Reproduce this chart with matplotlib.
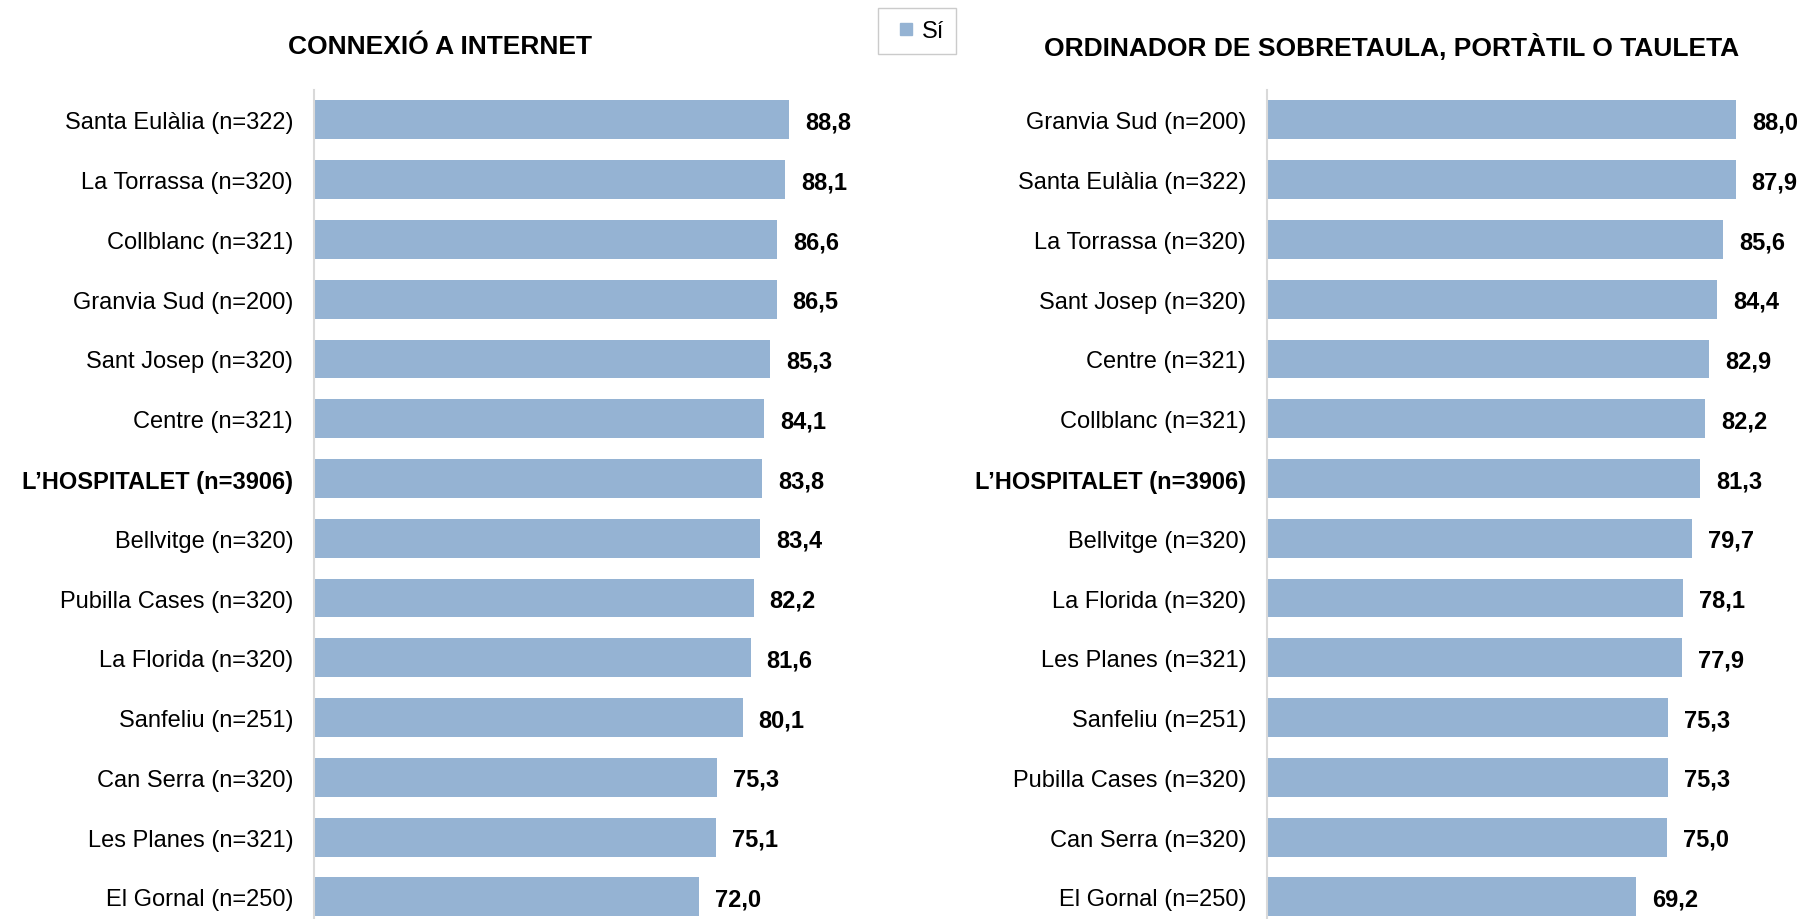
import matplotlib.pyplot as plt
from matplotlib.lines import Line2D

plt.rcParams['font.family'] = ['Liberation Sans', 'DejaVu Sans']

left_labels = ["Santa Eulàlia (n=322)", "La Torrassa (n=320)", "Collblanc (n=321)",
               "Granvia Sud (n=200)", "Sant Josep (n=320)", "Centre (n=321)",
               "L’HOSPITALET (n=3906)", "Bellvitge (n=320)", "Pubilla Cases (n=320)",
               "La Florida (n=320)", "Sanfeliu (n=251)", "Can Serra (n=320)",
               "Les Planes (n=321)", "El Gornal (n=250)"]
left_values = [88.8, 88.1, 86.6, 86.5, 85.3, 84.1, 83.8, 83.4, 82.2, 81.6, 80.1, 75.3, 75.1, 72.0]

right_labels = ["Granvia Sud (n=200)", "Santa Eulàlia (n=322)", "La Torrassa (n=320)",
                "Sant Josep (n=320)", "Centre (n=321)", "Collblanc (n=321)",
                "L’HOSPITALET (n=3906)", "Bellvitge (n=320)", "La Florida (n=320)",
                "Les Planes (n=321)", "Sanfeliu (n=251)", "Pubilla Cases (n=320)",
                "Can Serra (n=320)", "El Gornal (n=250)"]
right_values = [88.0, 87.9, 85.6, 84.4, 82.9, 82.2, 81.3, 79.7, 78.1, 77.9, 75.3, 75.3, 75.0, 69.2]

titles = ["CONNEXIÓ A INTERNET", "ORDINADOR DE SOBRETAULA, PORTÀTIL O TAULETA"]
bar_color = "#95B3D3"

fig = plt.figure(figsize=(18.04, 9.2), dpi=100)
ax1 = fig.add_axes([314 / 1804, 0, 535 / 1804, 1 - 91 / 920])
ax2 = fig.add_axes([1267 / 1804, 0, 533 / 1804, 1 - 91 / 920])

for ax, labels, values, title in [(ax1, left_labels, left_values, titles[0]),
                                  (ax2, right_labels, right_values, titles[1])]:
    y = list(range(len(labels)))
    ax.barh(y, values, height=0.65, color=bar_color)
    ax.set_xlim(0, 100)
    ax.set_ylim(13.37, -0.5)
    ax.set_yticks(y)
    ax.set_yticklabels(labels, fontsize=17)
    for lab in ax.get_yticklabels():
        if lab.get_text().startswith("L’HOSPITALET"):
            lab.set_fontweight("bold")
    ax.tick_params(axis='y', length=0, pad=15)
    ax.set_xticks([])
    for s in ["top", "right", "bottom"]:
        ax.spines[s].set_visible(False)
    ax.spines["left"].set_color("#D9D9D9")
    ax.spines["left"].set_linewidth(1.5)
    for yi, v in zip(y, values):
        ax.annotate(f"{v:.1f}".replace(".", ","), (v, yi), xytext=(11.5, -1.5),
                    textcoords="offset points", va="center", ha="left",
                    fontsize=17, fontweight="bold")

fig.text(440 / 1804, 1 - 47 / 920, titles[0], ha="center", va="center",
         fontsize=19, fontweight="bold")
fig.text(1392 / 1804, 1 - 47 / 920, titles[1], ha="center", va="center",
         fontsize=19, fontweight="bold")

handle = Line2D([], [], marker="s", linestyle="none", markersize=9,
                color=bar_color, label="Sí")
fig.legend(handles=[handle], loc="center",
           bbox_to_anchor=(917 / 1804, 1 - 32 / 920), fontsize=17,
           handlelength=1.35, handletextpad=0.0,
           fancybox=False, edgecolor="#BFBFBF", borderpad=0.5,
           borderaxespad=0)

fig.savefig("out.png", dpi=100)
